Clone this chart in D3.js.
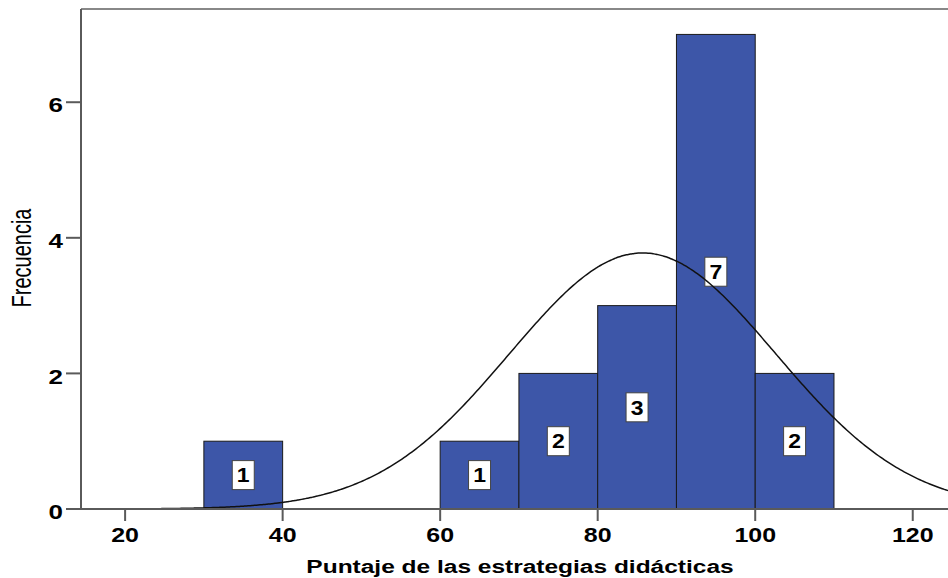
<!DOCTYPE html>
<html><head><meta charset="utf-8">
<script src="https://cdn.jsdelivr.net/npm/d3@7/dist/d3.min.js"></script>
<style>html,body{margin:0;padding:0;background:#fff;overflow:hidden}</style>
</head><body>
<svg id="c" width="948" height="578"></svg>
<script>
// ---- data ----
const binStarts = [30, 60, 70, 80, 90, 100];
const binWidth = 10;
const frequencies = [1, 1, 2, 3, 7, 2];
const xTicks = [20, 40, 60, 80, 100, 120];
const yTicks = [0, 2, 4, 6];
const normalMean = 85.7;
const normalSD = 16.9;
const nCases = 16;
const xLabel = "Puntaje de las estrategias didácticas";
const yLabel = "Frecuencia";

// ---- layout ----
const W = 948, H = 578;
const plotLeft = 81, plotTop = 9, plotBottom = 509;
const svg = d3.select("#c");
const x = d3.scaleLinear().domain([14.4, 126]).range([plotLeft, 960]);
const y = d3.scaleLinear().domain([0, 7.375]).range([plotBottom, plotTop]);
const FONT = "'Liberation Sans', Arial, Helvetica, sans-serif";
const axisColor = "#5a5a5a";

svg.append("defs").append("clipPath").attr("id", "pc")
  .append("rect").attr("x", plotLeft).attr("y", plotTop).attr("width", W - plotLeft).attr("height", plotBottom - plotTop);

// bars
const bins = binStarts.map((s, i) => ({x0: s, x1: s + binWidth, n: frequencies[i]}));
svg.append("g").selectAll("rect").data(bins).join("rect")
  .attr("x", d => x(d.x0)).attr("y", d => y(d.n))
  .attr("width", d => x(d.x1) - x(d.x0)).attr("height", d => y(0) - y(d.n))
  .attr("fill", "#3d56a8").attr("stroke", "#1a1a1a").attr("stroke-width", 1);

// labels
const lg = svg.append("g").selectAll("g").data(bins).join("g")
  .attr("transform", d => `translate(${(x(d.x0) + x(d.x1)) / 2},${y(d.n / 2)})`);
lg.append("rect").attr("x", -11).attr("y", -14.5).attr("width", 22).attr("height", 29)
  .attr("fill", "#fff").attr("stroke", "#444").attr("stroke-width", 1);
lg.append("text").text(d => d.n)
  .attr("transform", "scale(1.15,1)")
  .attr("text-anchor", "middle").attr("dy", "0.36em")
  .attr("font-family", FONT).attr("font-weight", "bold").attr("font-size", 20).attr("fill", "#000");

// normal curve
const pts = d3.range(14.4, 126.01, 0.25).map(v => [v,
  nCases * binWidth / (normalSD * Math.sqrt(2 * Math.PI)) *
  Math.exp(-0.5 * Math.pow((v - normalMean) / normalSD, 2))]);
svg.append("path").datum(pts)
  .attr("clip-path", "url(#pc)")
  .attr("d", d3.line().x(d => x(d[0])).y(d => y(d[1])).curve(d3.curveBasis))
  .attr("fill", "none").attr("stroke", "#111").attr("stroke-width", 1.5);

// axes
svg.append("line").attr("x1", plotLeft).attr("x2", W).attr("y1", plotTop).attr("y2", plotTop)
  .attr("stroke", "#888").attr("stroke-width", 2);
svg.append("line").attr("x1", plotLeft).attr("x2", plotLeft).attr("y1", plotTop).attr("y2", plotBottom)
  .attr("stroke", axisColor).attr("stroke-width", 2);
svg.append("line").attr("x1", plotLeft - 15).attr("x2", W).attr("y1", plotBottom).attr("y2", plotBottom)
  .attr("stroke", axisColor).attr("stroke-width", 2);

// y ticks
const yt = svg.append("g").selectAll("g").data(yTicks).join("g")
  .attr("transform", d => `translate(${plotLeft},${y(d)})`);
yt.append("line").attr("x1", -15).attr("x2", 0).attr("stroke", axisColor).attr("stroke-width", 2);
yt.append("text").text(d => d)
  .attr("transform", "translate(-18,3) scale(1.3,1)")
  .attr("text-anchor", "end").attr("dy", "0.36em")
  .attr("font-family", FONT).attr("font-weight", "bold").attr("font-size", 20).attr("fill", "#000");

// x ticks
const xt = svg.append("g").selectAll("g").data(xTicks).join("g")
  .attr("transform", d => `translate(${x(d)},${plotBottom})`);
xt.append("line").attr("y1", 0).attr("y2", 12).attr("stroke", axisColor).attr("stroke-width", 2);
xt.append("text").text(d => d)
  .attr("transform", "translate(0,33) scale(1.28,1)")
  .attr("text-anchor", "middle")
  .attr("font-family", FONT).attr("font-weight", "bold").attr("font-size", 19.5).attr("fill", "#000");

// axis titles
svg.append("text").text(xLabel)
  .attr("transform", "translate(520,573) scale(1.29,1)")
  .attr("text-anchor", "middle")
  .attr("font-family", FONT).attr("font-weight", "bold").attr("font-size", 19).attr("fill", "#000");
svg.append("text").text(yLabel)
  .attr("transform", "translate(31,258) scale(1.35,1) rotate(-90)")
  .attr("text-anchor", "middle")
  .attr("font-family", FONT).attr("font-size", 20).attr("fill", "#000");
</script>
</body></html>
